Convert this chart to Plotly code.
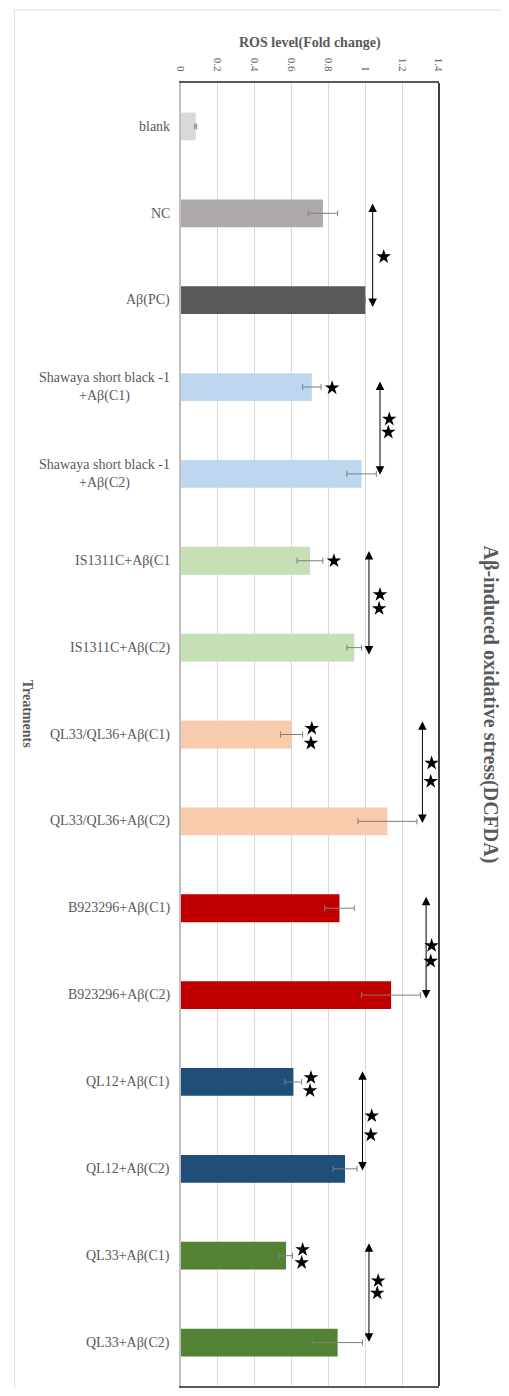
import plotly.graph_objects as go

categories = ["blank", "NC", "Aβ(PC)",
              "Shawaya short black -1<br>+Aβ(C1)", "Shawaya short black -1<br>+Aβ(C2)",
              "IS1311C+Aβ(C1", "IS1311C+Aβ(C2)",
              "QL33/QL36+Aβ(C1)", "QL33/QL36+Aβ(C2)",
              "B923296+Aβ(C1)", "B923296+Aβ(C2)",
              "QL12+Aβ(C1)", "QL12+Aβ(C2)",
              "QL33+Aβ(C1)", "QL33+Aβ(C2)"]
values = [0.08, 0.77, 1.00, 0.71, 0.98, 0.70, 0.94, 0.60, 1.12, 0.86, 1.14, 0.61, 0.89, 0.57, 0.85]
errors = [0.005, 0.08, 0.0, 0.05, 0.08, 0.07, 0.04, 0.06, 0.16, 0.08, 0.16, 0.045, 0.065, 0.035, 0.135]
colors = ["#d9d9d9", "#aeaaaa", "#595959", "#bdd7ee", "#bdd7ee", "#c5e0b4", "#c5e0b4",
          "#f8cbad", "#f8cbad", "#c00000", "#c00000", "#1f4e79", "#1f4e79", "#548235", "#548235"]

# significance arrows: x value, top index, bottom index
arrow_x = [1.04, 1.08, 1.02, 1.31, 1.33, 0.985, 1.02]
arrow_top = [0.87, 2.92, 4.87, 6.83, 8.85, 10.86, 12.84]
arrow_bottom = [2.08, 4.01, 6.08, 8.02, 10.04, 12.02, 13.99]

# stars
star_x = [1.10, 0.82, 1.13, 1.125, 0.83, 1.08, 1.075, 0.71, 0.705, 1.36, 1.355,
          1.36, 1.355, 0.705, 0.70, 1.035, 1.03, 0.66, 0.655, 1.07, 1.065]
star_y = [1.50, 3.01, 3.37, 3.52, 5.00, 5.39, 5.55, 6.93, 7.10, 7.33, 7.54,
          9.43, 9.61, 10.95, 11.10, 11.39, 11.61, 12.93, 13.08, 13.29, 13.43]

FONT = "Liberation Serif, Times New Roman, serif"
GRAY = "#595959"

idx = list(range(len(categories)))

fig = go.Figure()
fig.add_trace(go.Bar(
    x=values, y=idx, orientation="h", width=0.32,
    marker=dict(color=colors, line=dict(width=0)),
    error_x=dict(type="data", array=errors, color="#7f7f7f", thickness=1, width=3),
    showlegend=False,
))
fig.add_trace(go.Scatter(
    x=star_x, y=star_y, mode="markers",
    marker=dict(symbol="star", size=11, color="black"),
    showlegend=False, cliponaxis=False,
))

annotations = []
for i, lab in enumerate(categories):
    annotations.append(dict(
        x=-0.035, xref="paper", y=i, yref="y", text=lab, showarrow=False,
        xanchor="right", yanchor="middle", align="center",
        font=dict(family=FONT, size=14, color=GRAY),
    ))
for xa, yt, yb in zip(arrow_x, arrow_top, arrow_bottom):
    annotations.append(dict(
        x=xa, y=yb, ax=xa, ay=yt, xref="x", yref="y", axref="x", ayref="y",
        text="", showarrow=True, arrowhead=2, startarrowhead=2, arrowside="end+start",
        arrowsize=1.7, startarrowsize=1.7, arrowwidth=1, arrowcolor="black",
        standoff=0, startstandoff=0,
    ))
annotations.append(dict(
    x=0.5, y=1.0307, xref="paper", yref="paper", text="<b>ROS level(Fold change)</b>",
    showarrow=False, xanchor="center", yanchor="middle",
    font=dict(family=FONT, size=14, color=GRAY),
))
annotations.append(dict(
    x=1.198, y=0.523, xref="paper", yref="paper", text="<b>Aβ-induced oxidative stress(DCFDA)</b>",
    showarrow=False, xanchor="center", yanchor="middle", textangle=90,
    font=dict(family=FONT, size=20, color=GRAY),
))
annotations.append(dict(
    x=-0.597, y=0.516, xref="paper", yref="paper", text="<b>Treatments</b>",
    showarrow=False, xanchor="center", yanchor="middle", textangle=90,
    font=dict(family=FONT, size=14, color=GRAY),
))

shapes = [
    dict(type="rect", xref="paper", yref="paper", x0=-0.645, x1=1.314, y0=-0.0092, y1=1.0559,
         line=dict(color="#e3e3e3", width=1.2), layer="below"),
    dict(type="line", xref="paper", yref="paper", x0=1, x1=1, y0=0, y1=1,
         line=dict(color="black", width=1.5)),
]

fig.update_layout(
    width=493, height=1380,
    margin=dict(l=173, r=62, t=75, b=0),
    paper_bgcolor="white", plot_bgcolor="white",
    annotations=annotations, shapes=shapes,
    xaxis=dict(
        range=[0, 1.4], dtick=0.2, side="top", tickangle=90,
        showgrid=True, gridcolor="#d9d9d9", gridwidth=1, zeroline=False,
        showline=True, linecolor=GRAY, linewidth=1.5, mirror=True,
        ticks="", ticklabelstandoff=6,
        tickfont=dict(family=FONT, size=11, color=GRAY),
    ),
    yaxis=dict(
        range=[14.5, -0.5], showticklabels=False, showgrid=False, zeroline=False,
        showline=True, linecolor="#bfbfbf", linewidth=1.5, ticks="",
    ),
)

fig.write_html("out.html")
